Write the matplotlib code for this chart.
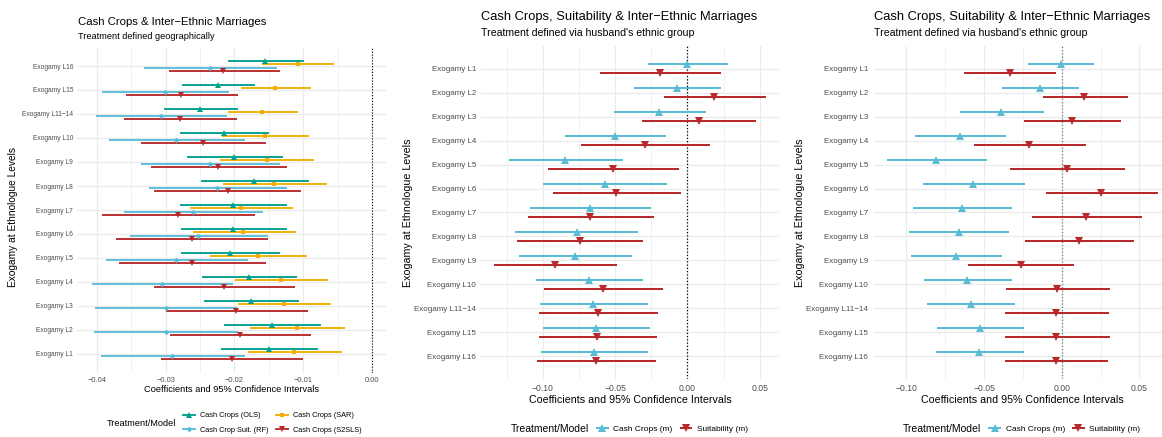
import numpy as np
import matplotlib
matplotlib.use("Agg")
import matplotlib.pyplot as plt
from matplotlib.lines import Line2D
from matplotlib.ticker import FixedLocator, FuncFormatter

plt.rcParams['font.family'] = ['Liberation Sans', 'DejaVu Sans']

W, H = 1162, 437

# ---------------- data: geographic treatment ----------------
geo_levels = ["Exogamy L16", "Exogamy L15", "Exogamy L11\u221214", "Exogamy L10",
              "Exogamy L9", "Exogamy L8", "Exogamy L7", "Exogamy L6", "Exogamy L5",
              "Exogamy L4", "Exogamy L3", "Exogamy L2", "Exogamy L1"]

ols_est = [-0.0156, -0.0224, -0.0250, -0.0215, -0.0200, -0.0171, -0.0202, -0.0202, -0.0207, -0.0179, -0.0176, -0.0145, -0.0150]
ols_lo  = [-0.0210, -0.0276, -0.0302, -0.0279, -0.0269, -0.0248, -0.0279, -0.0278, -0.0278, -0.0247, -0.0244, -0.0215, -0.0220]
ols_hi  = [-0.0099, -0.0170, -0.0195, -0.0150, -0.0129, -0.0092, -0.0124, -0.0124, -0.0134, -0.0109, -0.0106, -0.0075, -0.0079]

sar_est = [-0.0108, -0.0141, -0.0160, -0.0156, -0.0153, -0.0142, -0.0191, -0.0187, -0.0166, -0.0133, -0.0128, -0.0109, -0.0114]
sar_lo  = [-0.0160, -0.0191, -0.0210, -0.0218, -0.0221, -0.0217, -0.0264, -0.0260, -0.0236, -0.0199, -0.0195, -0.0178, -0.0181]
sar_hi  = [-0.0055, -0.0089, -0.0108, -0.0092, -0.0084, -0.0066, -0.0115, -0.0111, -0.0095, -0.0064, -0.0060, -0.0040, -0.0044]

rf_est = [-0.0236, -0.0301, -0.0307, -0.0285, -0.0236, -0.0225, -0.0260, -0.0253, -0.0285, -0.0305, -0.0300, -0.0300, -0.0290]
rf_lo  = [-0.0331, -0.0392, -0.0401, -0.0382, -0.0336, -0.0324, -0.0360, -0.0352, -0.0387, -0.0407, -0.0403, -0.0404, -0.0394]
rf_hi  = [-0.0139, -0.0208, -0.0211, -0.0185, -0.0134, -0.0124, -0.0159, -0.0152, -0.0180, -0.0202, -0.0197, -0.0195, -0.0185]

s2sls_est = [-0.0216, -0.0277, -0.0279, -0.0245, -0.0224, -0.0210, -0.0282, -0.0262, -0.0262, -0.0215, -0.0198, -0.0192, -0.0204]
s2sls_lo  = [-0.0295, -0.0358, -0.0360, -0.0335, -0.0321, -0.0317, -0.0392, -0.0372, -0.0368, -0.0317, -0.0300, -0.0294, -0.0306]
s2sls_hi  = [-0.0134, -0.0195, -0.0197, -0.0154, -0.0124, -0.0103, -0.0170, -0.0152, -0.0155, -0.0112, -0.0094, -0.0089, -0.0101]

# ---------------- data: husband's ethnic group ----------------
eth_levels = ["Exogamy L1", "Exogamy L2", "Exogamy L3", "Exogamy L4", "Exogamy L5",
              "Exogamy L6", "Exogamy L7", "Exogamy L8", "Exogamy L9", "Exogamy L10",
              "Exogamy L11\u221214", "Exogamy L15", "Exogamy L16"]

# middle panel
cc_a_est = [0.0000, -0.0071, -0.0194, -0.0498, -0.0844, -0.0569, -0.0673, -0.0765, -0.0775, -0.0680, -0.0650, -0.0634, -0.0643]
cc_a_lo  = [-0.0270, -0.0367, -0.0509, -0.0844, -0.1233, -0.0998, -0.1088, -0.1190, -0.1162, -0.1046, -0.1017, -0.1000, -0.1012]
cc_a_hi  = [0.0279, 0.0233, 0.0127, -0.0147, -0.0447, -0.0138, -0.0251, -0.0341, -0.0385, -0.0306, -0.0274, -0.0260, -0.0274]

su_a_est = [-0.0187, 0.0185, 0.0079, -0.0295, -0.0514, -0.0493, -0.0671, -0.0742, -0.0915, -0.0585, -0.0618, -0.0622, -0.0631]
su_a_lo  = [-0.0602, -0.0163, -0.0311, -0.0733, -0.0963, -0.0929, -0.1100, -0.1178, -0.1335, -0.0991, -0.1024, -0.1028, -0.1037]
su_a_hi  = [0.0233, 0.0542, 0.0473, 0.0155, -0.0057, -0.0046, -0.0232, -0.0304, -0.0486, -0.0170, -0.0205, -0.0212, -0.0219]

# right panel
cc_b_est = [-0.0005, -0.0140, -0.0389, -0.0655, -0.0807, -0.0571, -0.0640, -0.0663, -0.0683, -0.0608, -0.0586, -0.0526, -0.0531]
cc_b_lo  = [-0.0215, -0.0384, -0.0653, -0.0943, -0.1123, -0.0891, -0.0956, -0.0981, -0.0972, -0.0887, -0.0867, -0.0803, -0.0807]
cc_b_hi  = [0.0210, 0.0111, -0.0116, -0.0357, -0.0483, -0.0238, -0.0318, -0.0341, -0.0386, -0.0322, -0.0301, -0.0241, -0.0245]

su_b_est = [-0.0335, 0.0146, 0.0066, -0.0209, 0.0032, 0.0255, 0.0157, 0.0113, -0.0264, -0.0028, -0.0035, -0.0035, -0.0037]
su_b_lo  = [-0.0629, -0.0120, -0.0245, -0.0563, -0.0333, -0.0103, -0.0189, -0.0236, -0.0603, -0.0357, -0.0363, -0.0363, -0.0363]
su_b_hi  = [-0.0037, 0.0425, 0.0382, 0.0155, 0.0408, 0.0622, 0.0519, 0.0468, 0.0081, 0.0311, 0.0303, 0.0309, 0.0296]

GREEN, ORANGE, BLUE, RED = "#00A08A", "#F2AD00", "#5BBCD6", "#B8292B"
GRID = "#EBEBEB"
TICK_COL = "#4D4D4D"


def fx(px):
    return px / W


def fy(py):
    return 1 - py / H


def make_axes(left, right, top, bottom):
    ax = fig.add_axes([fx(left), fy(bottom), (right - left) / W, (bottom - top) / H])
    for s in ax.spines.values():
        s.set_visible(False)
    ax.set_axisbelow(True)
    return ax


def minus_fmt(v, pos):
    s = "%.2f" % v
    if s == "-0.00":
        s = "0.00"
    return s.replace("-", "\u2212")


def style_axes(ax, levels, major, minor, xlim, ylim, ytick_size, xtick_size, ypad, xpad):
    n = len(levels)
    ypos = np.arange(n)[::-1]
    ax.set_yticks(ypos)
    ax.set_yticklabels(levels)
    ax.xaxis.set_major_locator(FixedLocator(major))
    ax.xaxis.set_minor_locator(FixedLocator(minor))
    ax.xaxis.set_major_formatter(FuncFormatter(minus_fmt))
    ax.set_xlim(*xlim)
    ax.set_ylim(*ylim)
    ax.tick_params(axis='both', which='both', length=0, colors=TICK_COL)
    ax.tick_params(axis='y', labelsize=ytick_size, pad=ypad)
    ax.tick_params(axis='x', labelsize=xtick_size, pad=xpad)
    ax.grid(True, which='major', color=GRID, linewidth=0.9)
    ax.grid(True, which='minor', axis='x', color=GRID, linewidth=0.5)
    return ypos


def draw_series(ax, ypos, est, lo, hi, offset, color, marker, ms, lw):
    y = ypos + offset
    ax.hlines(y, lo, hi, color=color, linewidth=lw, zorder=3)
    ax.plot(est, y, linestyle='none', marker=marker, color=color,
            markersize=ms, markeredgewidth=0, zorder=4)


fig = plt.figure(figsize=(W / 100, H / 100), dpi=100)
fig.patch.set_facecolor("white")

# ---------------- left panel ----------------
ax1 = make_axes(77, 386, 46.8, 373.2)
yp1 = style_axes(ax1, geo_levels,
                 major=[-0.04, -0.03, -0.02, -0.01, 0.0],
                 minor=[-0.035, -0.025, -0.015, -0.005],
                 xlim=(-0.04286, 0.00199), ylim=(-0.8, 12.8),
                 ytick_size=4.8, xtick_size=5.4, ypad=2.7, xpad=2.4)
ax1.axvline(0, color="black", linestyle=(0, (1, 1.6)), linewidth=0.8, zorder=2)
d1 = 0.139
draw_series(ax1, yp1, ols_est, ols_lo, ols_hi, 1.5 * d1, GREEN, '^', 4.3, 1.35)
draw_series(ax1, yp1, sar_est, sar_lo, sar_hi, 0.5 * d1, ORANGE, 's', 3.3, 1.35)
draw_series(ax1, yp1, rf_est, rf_lo, rf_hi, -0.5 * d1, BLUE, 'D', 2.9, 1.35)
draw_series(ax1, yp1, s2sls_est, s2sls_lo, s2sls_hi, -1.5 * d1, RED, 'v', 4.3, 1.35)

fig.text(fx(77.7), fy(22), "Cash Crops & Inter\u2212Ethnic Marriages", fontsize=8.2,
         ha='left', va='center', color="black")
fig.text(fx(77.7), fy(36.7), "Treatment defined geographically", fontsize=6.6,
         ha='left', va='center', color="black")
fig.text(fx(231.5), fy(390), "Coefficients and 95% Confidence Intervals", fontsize=6.7,
         ha='center', va='center', color="black")
fig.text(fx(13), fy(217), "Exogamy at Ethnologue Levels", fontsize=7.3, rotation=90,
         ha='center', va='center', color="black")

fig.text(fx(107), fy(423), "Treatment/Model", fontsize=6.6, ha='left', va='center')
h_ols = Line2D([], [], color=GREEN, marker='^', markersize=4.3, markeredgewidth=0, linewidth=1.35)
h_rf = Line2D([], [], color=BLUE, marker='D', markersize=2.9, markeredgewidth=0, linewidth=1.35)
h_sar = Line2D([], [], color=ORANGE, marker='s', markersize=3.3, markeredgewidth=0, linewidth=1.35)
h_s2 = Line2D([], [], color=RED, marker='v', markersize=4.3, markeredgewidth=0, linewidth=1.35)
fig.legend([h_ols, h_rf, h_sar, h_s2],
           ["Cash Crops (OLS)", "Cash Crop Suit. (RF)", "Cash Crops (SAR)", "Cash Crops (S2SLS)"],
           ncol=2, loc='center left', bbox_to_anchor=(fx(183), fy(422.8)),
           frameon=False, fontsize=5.3, borderpad=0, borderaxespad=0,
           handlelength=1.6, handletextpad=0.7, columnspacing=1.0, labelspacing=1.0)

# ---------------- middle and right panels ----------------
d2 = 0.195
panels = [
    dict(left=480.8, right=779.3, xlim=(-0.1429, 0.0636), vcol="black",
         minor=[-0.125, -0.075, -0.025, 0.025], ypad=3.4,
         cc=(cc_a_est, cc_a_lo, cc_a_hi), su=(su_a_est, su_a_lo, su_a_hi),
         ylab_x=408, leg_title_x=511, leg_x=597),
    dict(left=873.8, right=1171.8, xlim=(-0.1210, 0.0709), vcol="#7A7A7A",
         minor=[-0.125, -0.075, -0.025, 0.025, 0.075], ypad=4.2,
         cc=(cc_b_est, cc_b_lo, cc_b_hi), su=(su_b_est, su_b_lo, su_b_hi),
         ylab_x=800, leg_title_x=903.3, leg_x=989.3),
]

for p in panels:
    ax = make_axes(p['left'], p['right'], 45.9, 379.1)
    yp = style_axes(ax, eth_levels,
                    major=[-0.10, -0.05, 0.0, 0.05], minor=p['minor'],
                    xlim=p['xlim'], ylim=(-0.95, 12.95),
                    ytick_size=5.8, xtick_size=6.2, ypad=p['ypad'], xpad=3.4)
    ax.axvline(0, color=p['vcol'], linestyle=(0, (1, 1.6)), linewidth=0.9, zorder=2)
    draw_series(ax, yp, *p['cc'], d2, BLUE, '^', 5.6, 1.45)
    draw_series(ax, yp, *p['su'], -d2, RED, 'v', 5.6, 1.45)

    fig.text(fx(p['left']), fy(16.7), "Cash Crops, Suitability & Inter\u2212Ethnic Marriages",
             fontsize=9.3, ha='left', va='center', color="black")
    fig.text(fx(p['left']), fy(33.3), "Treatment defined via husband's ethnic group",
             fontsize=7.6, ha='left', va='center', color="black")
    fig.text(fx((p['left'] + p['right']) / 2), fy(400), "Coefficients and 95% Confidence Intervals",
             fontsize=7.7, ha='center', va='center', color="black")
    fig.text(fx(p['ylab_x']), fy(213), "Exogamy at Ethnologue Levels", fontsize=7.7,
             rotation=90, ha='center', va='center', color="black")

    fig.text(fx(p['leg_title_x']), fy(429), "Treatment/Model", fontsize=7.5,
             ha='left', va='center')
    h_cc = Line2D([], [], color=BLUE, marker='^', markersize=5.6, markeredgewidth=0, linewidth=1.45)
    h_su = Line2D([], [], color=RED, marker='v', markersize=5.6, markeredgewidth=0, linewidth=1.45)
    fig.legend([h_cc, h_su], ["Cash Crops (m)", "Suitability (m)"], ncol=2,
               loc='center left', bbox_to_anchor=(fx(p['leg_x']), fy(429)),
               frameon=False, fontsize=6.0, borderpad=0, borderaxespad=0,
               handlelength=1.3, handletextpad=0.66, columnspacing=0.96)

fig.savefig("out.png", dpi=100, facecolor="white")
